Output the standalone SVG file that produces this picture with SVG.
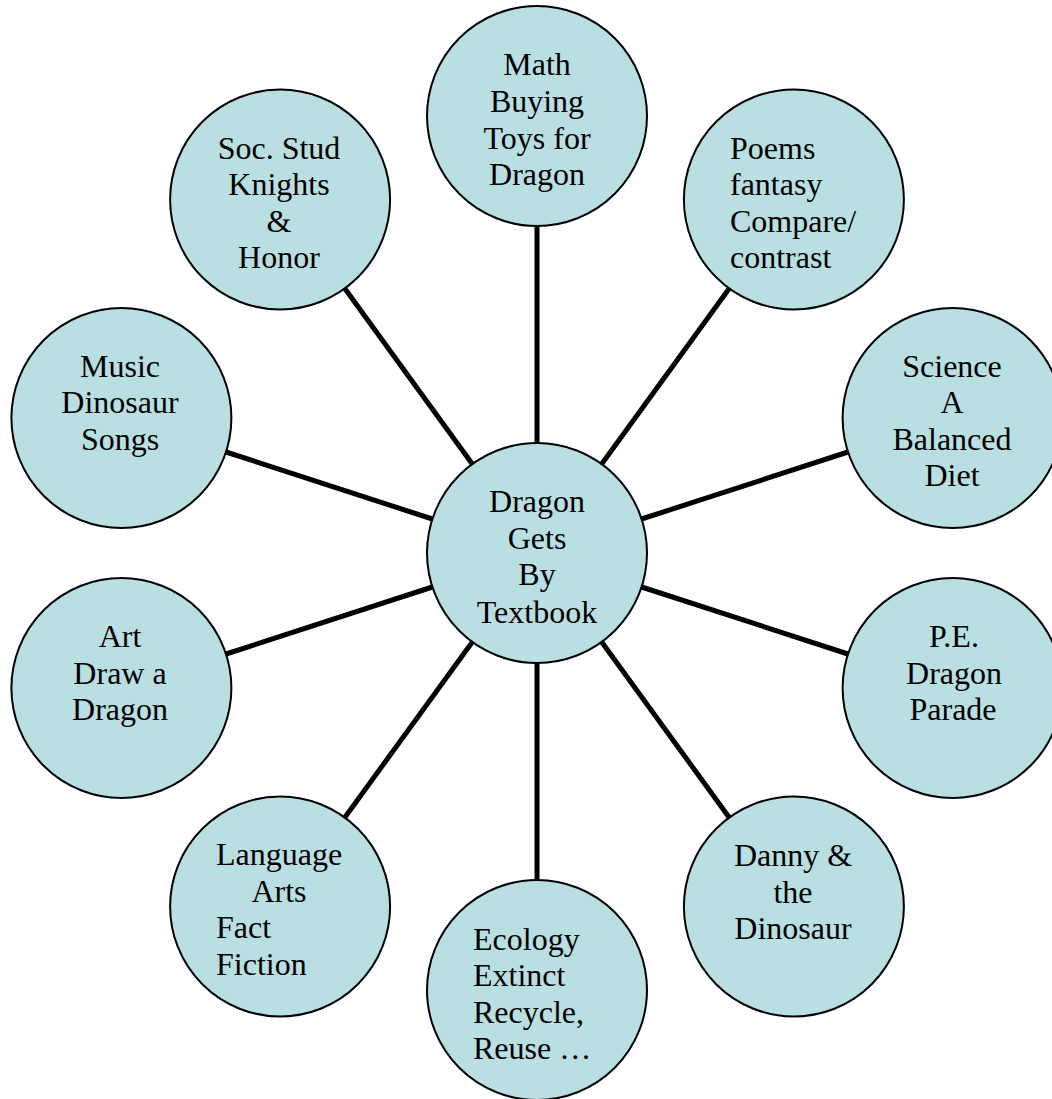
<svg xmlns="http://www.w3.org/2000/svg" width="1052" height="1099" viewBox="0 0 1052 1099">
  <style>
    .bubble { fill: #B9DFE3; stroke: #000000; stroke-width: 2; }
    .spoke { stroke: #000000; stroke-width: 5; stroke-linecap: butt; }
    .label { font-family: "Liberation Serif", "Times New Roman", serif; font-size: 32px; fill: #000000; }
    .mid { text-anchor: middle; }
    .left { text-anchor: start; }
  </style>
  <rect width="1052" height="1099" fill="#FFFFFF"/>

  <!-- spokes from the hub to each topic, 36 degrees apart -->
  <g id="connectors">
    <line class="spoke" x1="537" y1="443" x2="537" y2="226"/>
    <line class="spoke" x1="601.7" y1="464" x2="729.2" y2="288.5"/>
    <line class="spoke" x1="641.6" y1="519" x2="848" y2="452"/>
    <line class="spoke" x1="641.6" y1="587" x2="848" y2="654"/>
    <line class="spoke" x1="601.7" y1="642" x2="729.2" y2="817.5"/>
    <line class="spoke" x1="537" y1="663" x2="537" y2="880"/>
    <line class="spoke" x1="472.3" y1="642" x2="344.8" y2="817.5"/>
    <line class="spoke" x1="432.4" y1="587" x2="226" y2="654"/>
    <line class="spoke" x1="432.4" y1="519" x2="226" y2="452"/>
    <line class="spoke" x1="472.3" y1="464" x2="344.8" y2="288.5"/>
  </g>

  <g id="hub">
    <circle class="bubble" cx="537" cy="553" r="110"/>
    <text class="label mid" x="537" y="512">Dragon</text>
    <text class="label mid" x="537" y="548.5">Gets</text>
    <text class="label mid" x="537" y="585">By</text>
    <text class="label mid" x="537" y="622.5">Textbook</text>
  </g>

  <g id="math">
    <circle class="bubble" cx="537" cy="116" r="110"/>
    <text class="label mid" x="537" y="75">Math</text>
    <text class="label mid" x="537" y="112">Buying</text>
    <text class="label mid" x="537" y="148.5">Toys for</text>
    <text class="label mid" x="537" y="185">Dragon</text>
  </g>

  <g id="poems">
    <circle class="bubble" cx="793.9" cy="199.5" r="110"/>
    <text class="label left" x="730" y="158.5">Poems</text>
    <text class="label left" x="730" y="195">fantasy</text>
    <text class="label left" x="730" y="231.5">Compare/</text>
    <text class="label left" x="730" y="268">contrast</text>
  </g>

  <g id="science">
    <circle class="bubble" cx="952.6" cy="418" r="110"/>
    <text class="label mid" x="952" y="376.5">Science</text>
    <text class="label mid" x="952" y="413">A</text>
    <text class="label mid" x="952" y="449.5">Balanced</text>
    <text class="label mid" x="952" y="486">Diet</text>
  </g>

  <g id="pe">
    <circle class="bubble" cx="952.6" cy="688" r="110"/>
    <text class="label mid" x="954" y="647">P.E.</text>
    <text class="label mid" x="954" y="683.5">Dragon</text>
    <text class="label mid" x="953" y="719.5">Parade</text>
  </g>

  <g id="danny">
    <circle class="bubble" cx="793.9" cy="906.5" r="110"/>
    <text class="label mid" x="793" y="865.5">Danny &amp;</text>
    <text class="label mid" x="793" y="902.5">the</text>
    <text class="label mid" x="793" y="939">Dinosaur</text>
  </g>

  <g id="ecology">
    <circle class="bubble" cx="537" cy="990" r="110"/>
    <text class="label left" x="473" y="949.5">Ecology</text>
    <text class="label left" x="473" y="986">Extinct</text>
    <text class="label left" x="473" y="1022.5">Recycle,</text>
    <text class="label left" x="473" y="1059">Reuse …</text>
  </g>

  <g id="language">
    <circle class="bubble" cx="280.1" cy="906.5" r="110"/>
    <text class="label mid" x="279" y="865">Language</text>
    <text class="label mid" x="279" y="901.5">Arts</text>
    <text class="label left" x="216" y="938">Fact</text>
    <text class="label left" x="216" y="974.5">Fiction</text>
  </g>

  <g id="art">
    <circle class="bubble" cx="121.4" cy="688" r="110"/>
    <text class="label mid" x="120" y="647">Art</text>
    <text class="label mid" x="120" y="683.5">Draw a</text>
    <text class="label mid" x="120" y="719.5">Dragon</text>
  </g>

  <g id="music">
    <circle class="bubble" cx="121.4" cy="418" r="110"/>
    <text class="label mid" x="120" y="376.5">Music</text>
    <text class="label mid" x="120" y="413">Dinosaur</text>
    <text class="label mid" x="120" y="449.5">Songs</text>
  </g>

  <g id="social-studies">
    <circle class="bubble" cx="280.1" cy="199.5" r="110"/>
    <text class="label mid" x="279" y="158.5">Soc. Stud</text>
    <text class="label mid" x="279" y="195">Knights</text>
    <text class="label mid" x="279" y="231.5">&amp;</text>
    <text class="label mid" x="279" y="268">Honor</text>
  </g>
</svg>
